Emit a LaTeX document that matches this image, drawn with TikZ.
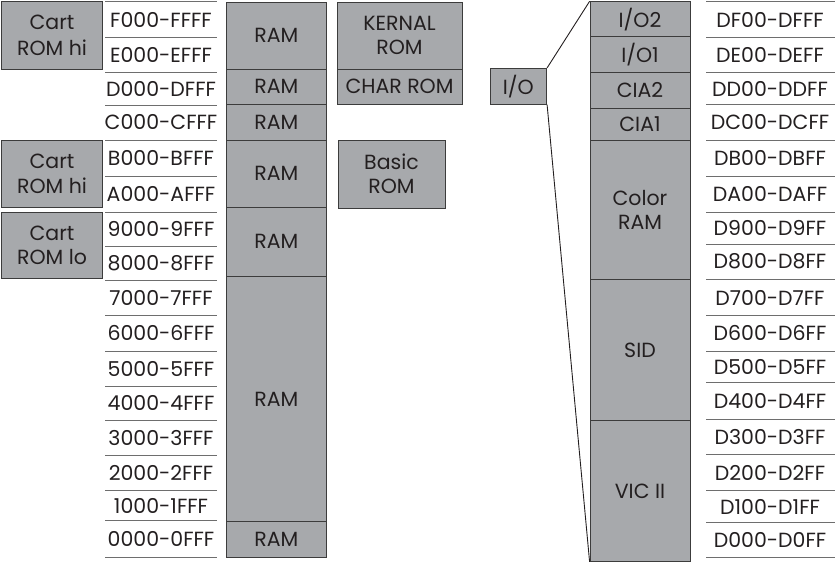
\documentclass[tikz,border=0pt]{standalone}
\usepackage{fontspec}
\setmainfont{Poppins}
\definecolor{blkfill}{HTML}{A7A9AC}
\definecolor{ink}{HTML}{231F20}
\definecolor{edge}{HTML}{3C3C3C}
\definecolor{rulegray}{HTML}{6E6E6E}
\tikzset{
  blockbox/.style={draw=edge, line width=0.8pt, fill=blkfill, text=ink, inner sep=0pt,
    font=\fontsize{20.5}{25}\selectfont},
  addr/.style={text=ink, inner sep=0pt, font=\fontsize{20.5}{25}\selectfont},
  addrline/.style={draw=rulegray, line width=1pt},
  zoomline/.style={draw=ink, line width=0.9pt}
}
\newcommand{\blockat}[6]{%
  \pgfmathsetmacro\blkw{#4-#2}\pgfmathsetmacro\blkh{#5-#3}%
  \node[blockbox, minimum width=\blkw pt, minimum height=\blkh pt] (#1)
    at ({(#2+#4)/2},{(#3+#5)/2}) {#6};}
\newcommand{\twolines}[2]{\shortstack{#1\\[6.5pt]#2}}
\newcommand{\addrL}[4]{\node[addr] (#1) at (161,{(#2+#3)/2}) {#4};}
\newcommand{\addrR}[4]{\node[addr] (#1) at (770,{(#2+#3)/2}) {#4};}
\begin{document}
\begin{tikzpicture}[x=1pt,y=-1pt]
\useasboundingbox (0,0) rectangle (835,563);
% left address lines
\foreach \yy in {1.7,37.3,72.3,105,140,176.7,212,246.7,280,315.7,351,386.7,420,455,490.7,520.7,557.3}
  \draw[addrline] (105,\yy) -- (217,\yy);
% right address lines
\foreach \yy in {1.7,37.3,72.7,104.3,140,176.7,212,244,279.3,315.7,351,382.3,419.3,454.3,490.7,522.3,557.3}
  \draw[addrline] (706,\yy) -- (835,\yy);
% left addresses
\addrL{aF}{1.7}{37.3}{F000-FFFF}
\addrL{aE}{37.3}{72.3}{E000-EFFF}
\addrL{aD}{72.3}{105}{D000-DFFF}
\addrL{aC}{105}{140}{C000-CFFF}
\addrL{aB}{140}{176.7}{B000-BFFF}
\addrL{aA}{176.7}{212}{A000-AFFF}
\addrL{a9}{212}{246.7}{9000-9FFF}
\addrL{a8}{246.7}{280}{8000-8FFF}
\addrL{a7}{280}{315.7}{7000-7FFF}
\addrL{a6}{315.7}{351}{6000-6FFF}
\addrL{a5}{351}{386.7}{5000-5FFF}
\addrL{a4}{386.7}{420}{4000-4FFF}
\addrL{a3}{420}{455}{3000-3FFF}
\addrL{a2}{455}{490.7}{2000-2FFF}
\addrL{a1}{490.7}{520.7}{1000-1FFF}
\addrL{a0}{520.7}{557.3}{0000-0FFF}
% right addresses
\addrR{dF}{1.7}{37.3}{DF00-DFFF}
\addrR{dE}{37.3}{72.7}{DE00-DEFF}
\addrR{dD}{72.7}{104.3}{DD00-DDFF}
\addrR{dC}{104.3}{140}{DC00-DCFF}
\addrR{dB}{140}{176.7}{DB00-DBFF}
\addrR{dA}{176.7}{212}{DA00-DAFF}
\addrR{d9}{212}{244}{D900-D9FF}
\addrR{d8}{244}{279.3}{D800-D8FF}
\addrR{d7}{279.3}{315.7}{D700-D7FF}
\addrR{d6}{315.7}{351}{D600-D6FF}
\addrR{d5}{351}{382.3}{D500-D5FF}
\addrR{d4}{382.3}{419.3}{D400-D4FF}
\addrR{d3}{419.3}{454.3}{D300-D3FF}
\addrR{d2}{454.3}{490.7}{D200-D2FF}
\addrR{d1}{490.7}{522.3}{D100-D1FF}
\addrR{d0}{522.3}{557.3}{D000-D0FF}
% cartridge blocks
\blockat{carthi}{1.7}{1.7}{102.3}{69}{\twolines{Cart}{ROM hi}}
\blockat{carthib}{1.7}{140}{102.3}{207.3}{\twolines{Cart}{ROM hi}}
\blockat{cartlo}{1.7}{212.3}{102.3}{278.3}{\twolines{Cart}{ROM lo}}
% RAM column
\blockat{ramFE}{226}{2}{326.5}{69}{RAM}
\blockat{ramD}{226}{69}{326.5}{104.3}{RAM}
\blockat{ramC}{226}{104.3}{326.5}{140}{RAM}
\blockat{ramBA}{226}{140}{326.5}{207}{RAM}
\blockat{ram98}{226}{207}{326.5}{276}{RAM}
\blockat{ram71}{226}{276}{326.5}{521.7}{RAM}
\blockat{ram0}{226}{521.7}{326.5}{557}{RAM}
% ROM blocks
\blockat{kernal}{337}{2}{462}{69}{\twolines{KERNAL}{ROM}}
\blockat{charrom}{337}{69}{462}{104.3}{CHAR ROM}
\blockat{basic}{338}{140}{445}{208}{\twolines{Basic}{ROM}}
% I/O
\blockat{io}{490}{68.3}{546.7}{104.3}{I/O}
\blockat{iotwo}{590}{1.7}{690}{36.7}{I/O2}
\blockat{ioone}{590}{36.7}{690}{72.7}{I/O1}
\blockat{ciatwo}{590}{72.7}{690}{108.3}{CIA2}
\blockat{ciaone}{590}{108.3}{690}{140}{CIA1}
\blockat{colorram}{590}{140}{690}{279.3}{\twolines{Color}{RAM}}
\blockat{sid}{590}{279.3}{690}{420.5}{SID}
\blockat{vic}{590}{420.5}{690}{561.5}{VIC II}
% zoom connectors
\draw[zoomline] (io.north east) -- (iotwo.north west);
\draw[zoomline] (io.south east) -- (vic.south west);
\end{tikzpicture}
\end{document}
